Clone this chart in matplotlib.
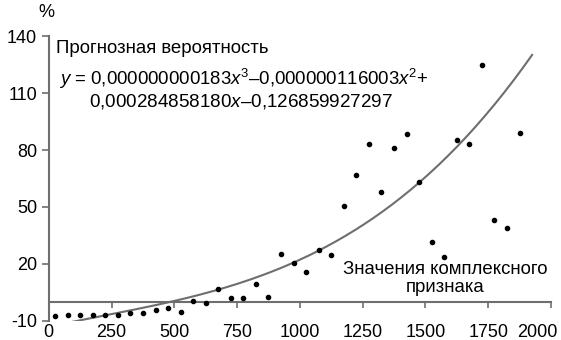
import numpy as np
import matplotlib
matplotlib.use("Agg")
import matplotlib.pyplot as plt
from matplotlib.transforms import ScaledTranslation

plt.rcParams["font.family"] = ["Liberation Sans", "DejaVu Sans"]
plt.rcParams["mathtext.fontset"] = "custom"
plt.rcParams["mathtext.rm"] = "Liberation Sans"
plt.rcParams["mathtext.it"] = "Liberation Sans:italic"
plt.rcParams["axes.unicode_minus"] = False

# data
feature = [25, 75, 125, 175, 225, 275, 325, 375, 425, 475,
           525, 575, 625, 675, 725, 775, 825, 875, 925, 975,
           1025, 1075, 1125, 1175, 1225, 1275, 1325, 1375, 1425, 1475,
           1525, 1575, 1625, 1675, 1725, 1775, 1825, 1875]
prob = [-7.4, -6.9, -7.0, -7.0, -6.9, -6.9, -6.0, -6.0, -4.1, -3.0,
        -5.4, 0.5, -0.4, 6.9, 2.3, 2.3, 9.4, 2.6, 25.0, 20.3,
        15.9, 27.1, 24.9, 50.4, 66.7, 83.4, 57.8, 80.8, 88.2, 63.1,
        31.7, 23.7, 85.2, 83.2, 124.7, 43.0, 39.0, 88.7]

# trend line points
trend_x = [75, 500, 1000, 1475, 1925]
trend_y = [-11.0, 0.7, 22.0, 63.0, 130.0]

x_ticks = [0, 250, 500, 750, 1000, 1250, 1500, 1750, 2000]
y_ticks = [-10, 20, 50, 80, 110, 140]

grey = "#6e6e6e"

fig = plt.figure(figsize=(5.61, 3.40), dpi=100)
ax = fig.add_axes([0.087, 0.056, 0.895, 0.838])

coef = np.polyfit(trend_x, trend_y, 3)
xs = np.linspace(trend_x[0], trend_x[-1], 200)
ax.plot(xs, np.polyval(coef, xs), color=grey, lw=1.5, zorder=2)
ax.scatter(feature, prob, s=9, color="black", zorder=3)

ax.set_xlim(0, 2000)
ax.set_ylim(-10, 140)
ax.set_xticks(x_ticks)
ax.set_yticks(y_ticks)

for s in ["top", "right"]:
    ax.spines[s].set_visible(False)
ax.spines["bottom"].set_position(("data", 0))
ax.spines["left"].set_position(("data", 0))
for s in ["bottom", "left"]:
    ax.spines[s].set_color(grey)
    ax.spines[s].set_linewidth(1.5)
ax.tick_params(axis="both", colors=grey, width=1.2, length=4, direction="out",
               labelsize=13, labelcolor="black")
ax.tick_params(axis="x", pad=12)
ax.tick_params(axis="y", length=5)

# last x label pulled inside the figure, like the original
last = ax.get_xticklabels()[-1]
last.set_horizontalalignment("right")
last.set_transform(last.get_transform() + ScaledTranslation(7 / 100, 0, fig.dpi_scale_trans))

fig.text(0.082, 0.95, "%", fontsize=13, ha="center")
ax.text(0.014, 0.985, "Прогнозная вероятность", transform=ax.transAxes,
        fontsize=13.4, va="top")
ax.text(0.02, 0.848,
        r"$\mathit{y}$ = 0,000000000183$\mathit{x}^{3}$–0,000000116003$\mathit{x}^{2}$+",
        transform=ax.transAxes, fontsize=13.4, va="center")
ax.text(0.08, 0.77, "0,000284858180$\\mathit{x}$–0,126859927297",
        transform=ax.transAxes, fontsize=13.6, va="center")
ax.text(0.79, 0.15, "Значения комплексного\nпризнака", transform=ax.transAxes,
        fontsize=13.4, ha="center", va="center", linespacing=1.1)

fig.savefig("out.png", dpi=100)
